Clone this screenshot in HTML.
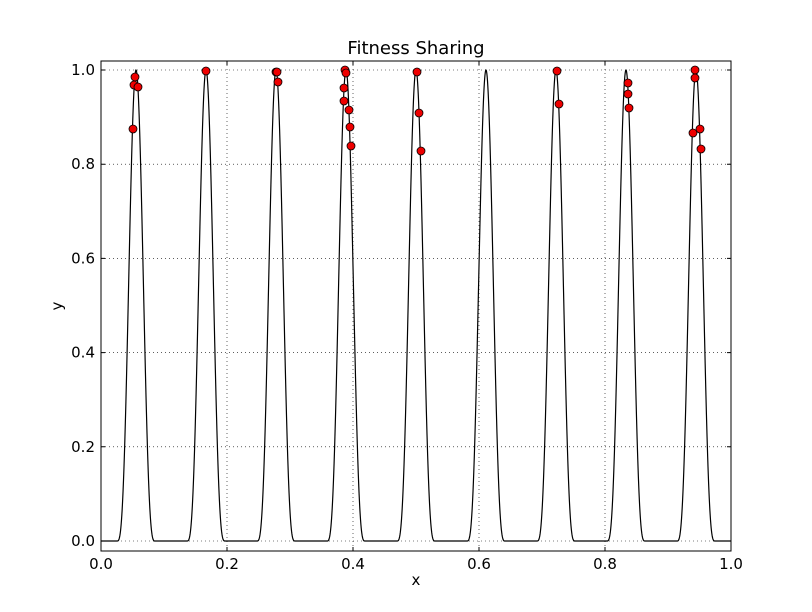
<!DOCTYPE html>
<html><head><style>body{margin:0;background:#fff}svg{display:block}text{font-family:"DejaVu Sans","Liberation Sans",sans-serif}</style></head>
<body>
<svg id="s" width="812" height="612" xmlns="http://www.w3.org/2000/svg">
<rect width="812" height="612" fill="#fff"/>
<g stroke="#000" stroke-width="0.6" stroke-dasharray="1,3">
<line x1="227" y1="61" x2="227" y2="551"/><line x1="353" y1="61" x2="353" y2="551"/><line x1="479" y1="61" x2="479" y2="551"/><line x1="605" y1="61" x2="605" y2="551"/>
<line x1="101" y1="541" x2="731" y2="541"/><line x1="101" y1="446.8" x2="731" y2="446.8"/><line x1="101" y1="352.6" x2="731" y2="352.6"/><line x1="101" y1="258.4" x2="731" y2="258.4"/><line x1="101" y1="164.2" x2="731" y2="164.2"/><line x1="101" y1="70" x2="731" y2="70"/>
</g>
<path id="curve" fill="none" stroke="#000" stroke-width="1.2"/>
<g fill="#e00" stroke="#000" stroke-width="0.8">
<circle cx="133" cy="129" r="4"/><circle cx="135" cy="77" r="4"/><circle cx="134" cy="85" r="4"/><circle cx="138" cy="87" r="4"/>
<circle cx="206" cy="71" r="4"/><circle cx="276" cy="72" r="4"/><circle cx="277" cy="72" r="4"/><circle cx="278" cy="82" r="4"/>
<circle cx="345" cy="70" r="4"/><circle cx="346" cy="73" r="4"/><circle cx="344" cy="88" r="4"/><circle cx="344" cy="101" r="4"/>
<circle cx="349" cy="110" r="4"/><circle cx="350" cy="127" r="4"/><circle cx="351" cy="146" r="4"/>
<circle cx="417" cy="72" r="4"/><circle cx="419" cy="113" r="4"/><circle cx="421" cy="151" r="4"/>
<circle cx="557" cy="71" r="4"/><circle cx="559" cy="104" r="4"/>
<circle cx="628" cy="83" r="4"/><circle cx="628" cy="94" r="4"/><circle cx="629" cy="108" r="4"/>
<circle cx="695" cy="70" r="4"/><circle cx="695" cy="78" r="4"/><circle cx="693" cy="133" r="4"/><circle cx="700" cy="129" r="4"/><circle cx="701" cy="149" r="4"/>
</g>
<rect x="101" y="61" width="630" height="490" fill="none" stroke="#000" stroke-width="1"/>
<g stroke="#000" stroke-width="1">
<path d="M101 551v-4M227 551v-4M353 551v-4M479 551v-4M605 551v-4M731 551v-4M101 61v4M227 61v4M353 61v4M479 61v4M605 61v4M731 61v4"/>
<path d="M101 541h4M101 446.8h4M101 352.6h4M101 258.4h4M101 164.2h4M101 70h4M731 541h-4M731 446.8h-4M731 352.6h-4M731 258.4h-4M731 164.2h-4M731 70h-4"/>
</g>
<g font-size="15" text-anchor="middle">
<text x="101" y="569">0.0</text><text x="227" y="569">0.2</text><text x="353" y="569">0.4</text><text x="479" y="569">0.6</text><text x="605" y="569">0.8</text><text x="731" y="569">1.0</text>
<text x="416" y="585">x</text>
</g>
<g font-size="15" text-anchor="end">
<text x="95" y="546">0.0</text><text x="95" y="452">0.2</text><text x="95" y="357.6">0.4</text><text x="95" y="263.4">0.6</text><text x="95" y="169.2">0.8</text><text x="95" y="75">1.0</text>
</g>
<text x="62" y="306" font-size="15" text-anchor="middle" transform="rotate(-90 62 306)">y</text>
<text x="416" y="54" font-size="18" text-anchor="middle">Fitness Sharing</text>
<script>
var d="";
for(var i=0;i<=2000;i++){var x=i/2000;var k=Math.round((x-0.0556)/0.1111);var p=0.0556+k*0.1111;var dd=Math.abs(x-p);var y=0;if(dd<0.03){y=Math.pow(Math.cos(Math.PI*dd/0.06),3);}
var px=101+630*x,py=541-471*y;d+=(i?"L":"M")+px.toFixed(2)+" "+py.toFixed(2);}
document.getElementById("curve").setAttribute("d",d);
</script>
</svg>
</body></html>
